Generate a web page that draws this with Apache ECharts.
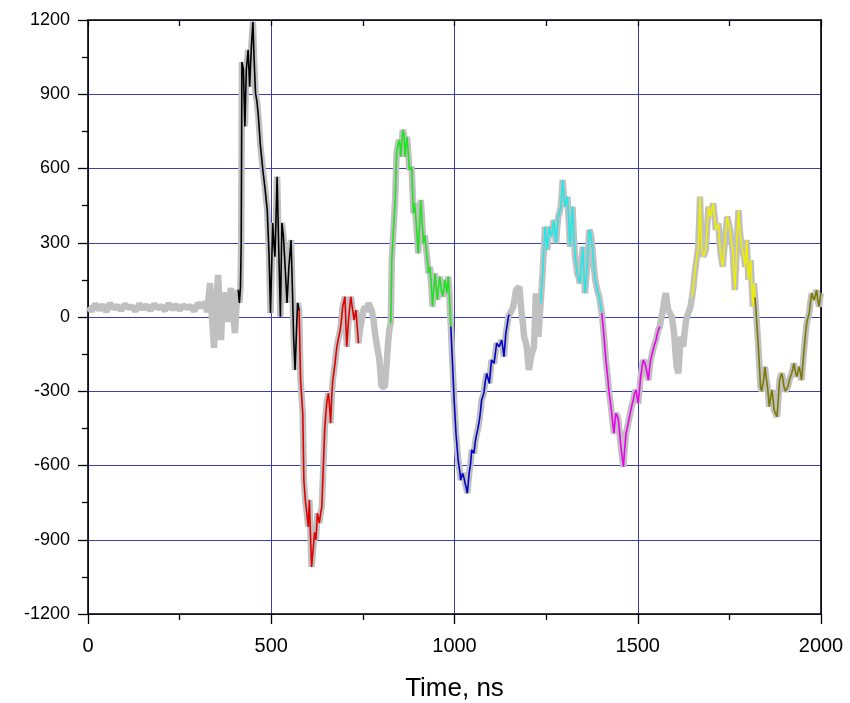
<!DOCTYPE html>
<html>
<head>
<meta charset="utf-8">
<script src="https://cdn.jsdelivr.net/npm/echarts@6/dist/echarts.min.js"></script>
<style>html,body{margin:0;padding:0;background:#fff}#c{width:850px;height:703px}</style>
</head>
<body>
<div id="c"></div>
<script>
// [time ns, value]
const preTrigger = [[0,40],[10,25],[20,52],[30,30],[40,48],[50,22],[60,55],[70,35],[80,45],[90,28],[100,50],[110,38],[120,42],[130,24],[140,53],[150,32],[160,47],[170,27],[180,51],[190,36],[200,44],[210,26],[220,54],[230,31],[240,49],[250,29],[260,46],[270,37],[280,43],[290,25],[300,55],[310,40],[320,60],[325,20],[333,137],[338,0],[344,-125],[350,60],[355,170],[360,20],[363,-93],[368,80],[372,30],[376,100],[380,-20],[385,60],[390,117],[395,20],[401,-65],[405,40],[410,110]];
const blackSeg = [[410,110],[413,57],[416,120],[418,300],[420,1030],[424,1000],[428,770],[432,1000],[437,1079],[441,930],[446,1100],[450,1193],[453,1050],[457,905],[461,870],[465,809],[470,700],[477,594],[483,520],[489,432],[494,250],[498,16],[501,200],[504,380],[507,300],[510,244],[513,400],[516,567],[520,300],[525,1],[529,380],[533,330],[538,200],[543,57],[548,200],[554,311],[558,100],[561,-80],[565,-214],[569,-50],[572,57],[576,28]];
const redSeg = [[576,28],[580,-255],[586,-389],[589,-659],[593,-740],[597,-792],[601,-847],[604,-739],[607,-880],[610,-1010],[615,-928],[618,-870],[622,-900],[626,-793],[631,-833],[635,-790],[638,-767],[642,-606],[646,-450],[649,-389],[652,-340],[656,-308],[659,-360],[662,-429],[665,-320],[668,-255],[674,-187],[679,-120],[683,-90],[688,-53],[691,-20],[695,42],[701,82],[706,-120],[711,-10],[717,82],[721,40],[726,-12],[731,28],[738,-106]];
const gap1 = [[738,-106],[742,-50],[747,-12],[752,30],[756,42],[761,20],[765,56],[770,40],[774,28],[779,-10],[783,-66],[789,-120],[795,-173],[801,-282],[805,-290],[810,-282],[815,-187],[819,-100],[822,-53],[826,-25]];
const greenSeg = [[826,-25],[829,230],[833,338],[838,473],[842,662],[846,700],[850,715],[853,648],[856,700],[859,756],[862,740],[865,648],[870,728],[873,680],[877,594],[883,607],[888,419],[891,460],[895,392],[901,257],[905,380],[908,473],[912,380],[915,298],[919,330],[922,284],[926,230],[929,176],[933,203],[937,120],[940,42],[944,120],[947,176],[950,120],[953,69],[957,130],[960,163],[964,110],[968,82],[971,120],[974,150],[979,96],[983,163],[986,90],[988,16],[990,-39]];
const blueSeg = [[990,-39],[995,-201],[999,-335],[1004,-470],[1010,-578],[1014,-620],[1017,-659],[1022,-631],[1026,-650],[1029,-672],[1032,-690],[1035,-712],[1040,-631],[1044,-590],[1047,-537],[1053,-551],[1057,-500],[1061,-470],[1064,-450],[1068,-416],[1071,-380],[1074,-335],[1080,-308],[1084,-260],[1088,-228],[1095,-268],[1101,-174],[1108,-187],[1112,-140],[1115,-106],[1122,-120],[1129,-93],[1135,-160],[1140,-66],[1144,-30],[1147,1],[1150,10]];
const gap2 = [[1150,10],[1156,28],[1160,40],[1165,82],[1168,109],[1171,115],[1177,122],[1180,70],[1183,16],[1187,-30],[1190,-80],[1194,-100],[1197,-120],[1200,-170],[1203,-214],[1207,-180],[1211,-147],[1214,-135],[1217,-120],[1222,96],[1226,-20],[1229,-80],[1232,-10],[1235,56]];
const cyanSeg = [[1235,56],[1238,120],[1241,190],[1244,280],[1247,365],[1250,320],[1253,271],[1256,320],[1259,365],[1262,340],[1265,325],[1268,360],[1271,392],[1274,340],[1277,298],[1280,360],[1283,405],[1286,420],[1290,446],[1293,500],[1295,554],[1299,480],[1302,446],[1305,470],[1308,486],[1312,380],[1315,284],[1318,360],[1322,446],[1325,340],[1329,244],[1332,210],[1335,176],[1339,160],[1342,136],[1346,200],[1350,284],[1353,180],[1356,96],[1359,150],[1362,203],[1365,290],[1368,352],[1371,340],[1374,311],[1378,250],[1381,190],[1384,150],[1388,122],[1391,100],[1395,82],[1398,50],[1402,16]];
const magentaSeg = [[1402,16],[1405,-30],[1408,-80],[1413,-174],[1417,-228],[1422,-308],[1425,-340],[1429,-389],[1432,-430],[1435,-470],[1440,-389],[1444,-400],[1447,-416],[1450,-460],[1453,-510],[1457,-560],[1461,-605],[1464,-540],[1468,-470],[1471,-450],[1474,-429],[1478,-400],[1481,-376],[1485,-350],[1488,-335],[1491,-310],[1495,-295],[1498,-320],[1501,-349],[1505,-290],[1508,-241],[1512,-200],[1515,-174],[1519,-185],[1522,-201],[1526,-230],[1529,-255],[1532,-210],[1535,-174],[1539,-150],[1542,-133],[1546,-110],[1550,-93],[1553,-70],[1556,-53],[1560,-39]];
const gap3 = [[1560,-39],[1565,0],[1570,42],[1574,80],[1577,96],[1580,60],[1583,28],[1588,15],[1593,1],[1596,-30],[1599,-66],[1603,-140],[1606,-201],[1611,-228],[1614,-150],[1617,-80],[1620,-100],[1624,-120],[1628,-60],[1632,-12],[1635,5],[1638,16],[1644,42],[1648,80]];
const yellowSeg = [[1648,80],[1652,122],[1655,170],[1659,217],[1662,250],[1665,284],[1668,400],[1670,486],[1672,380],[1674,284],[1679,244],[1683,260],[1686,271],[1690,380],[1693,446],[1696,420],[1699,405],[1703,440],[1706,459],[1710,400],[1713,352],[1716,365],[1720,378],[1723,310],[1726,257],[1729,230],[1732,203],[1735,260],[1738,311],[1741,360],[1744,405],[1748,380],[1752,352],[1755,310],[1759,271],[1762,190],[1765,109],[1768,200],[1770,284],[1773,380],[1775,432],[1778,360],[1781,311],[1783,290],[1786,284],[1790,240],[1793,203],[1797,311],[1800,220],[1802,150],[1805,190],[1808,230],[1811,130],[1814,42],[1817,136],[1820,80]];
const oliveSeg = [[1820,80],[1823,16],[1826,-50],[1829,-120],[1832,-200],[1835,-282],[1838,-300],[1841,-308],[1844,-250],[1847,-201],[1850,-240],[1854,-282],[1857,-330],[1859,-362],[1863,-320],[1866,-295],[1869,-330],[1872,-376],[1876,-390],[1880,-403],[1884,-320],[1887,-255],[1890,-240],[1893,-228],[1896,-250],[1899,-282],[1903,-300],[1906,-308],[1910,-280],[1914,-255],[1917,-240],[1920,-228],[1923,-210],[1926,-187],[1930,-220],[1934,-241],[1937,-220],[1941,-201],[1944,-230],[1947,-255],[1950,-200],[1953,-147],[1957,-80],[1961,-25],[1964,-5],[1968,16],[1971,60],[1975,96],[1978,80],[1981,69],[1985,90],[1988,109],[1991,70],[1995,42],[1998,80],[2000,96]];

const colored = [
  {data: blackSeg, color: '#000000'},
  {data: redSeg, color: '#e00000'},
  {data: greenSeg, color: '#22e022'},
  {data: blueSeg, color: '#0000c8'},
  {data: cyanSeg, color: '#20e8e8'},
  {data: magentaSeg, color: '#ee00ee'},
  {data: yellowSeg, color: '#eeee00'},
  {data: oliveSeg, color: '#7a7a00'}
];
const grayTrace = [].concat(preTrigger, blackSeg, redSeg, gap1, greenSeg, blueSeg, gap2, cyanSeg, magentaSeg, gap3, yellowSeg, oliveSeg);

const font = 'Liberation Sans, Arial, sans-serif';
const plain = v => String(v);
const chart = echarts.init(document.getElementById('c'), null, {renderer: 'canvas'});
const series = [{
  type: 'line', data: grayTrace, showSymbol: false, silent: true,
  lineStyle: {color: '#c0c0c0', width: 6.5}, z: 2
}];
colored.forEach(s => series.push({
  type: 'line', data: s.data, showSymbol: false, silent: true,
  lineStyle: {color: s.color, width: 1.6}, z: 3
}));

chart.setOption({
  animation: false,
  backgroundColor: '#fff',
  grid: {left: 88, right: 29, top: 20, bottom: 89, containLabel: false, outerBoundsMode: 'none'},
  xAxis: [{
    type: 'value', min: 0, max: 2000, interval: 500, position: 'bottom',
    name: 'Time, ns', nameLocation: 'middle', nameGap: 62,
    nameTextStyle: {fontFamily: font, fontSize: 26, color: '#000'},
    axisLine: {show: true, onZero: false, lineStyle: {color: '#000', width: 1.6}},
    axisTick: {show: true, inside: false, length: 10, lineStyle: {color: '#000', width: 1.3}},
    minorTick: {show: true, splitNumber: 2, length: 6, lineStyle: {color: '#000', width: 1.3}},
    axisLabel: {fontFamily: font, fontSize: 20, color: '#000', margin: 22, formatter: plain},
    splitLine: {show: true, lineStyle: {color: '#3c3cb4', width: 1}}
  }, {
    type: 'value', min: 0, max: 2000, interval: 250, position: 'top',
    axisLine: {show: true, onZero: false, lineStyle: {color: '#000', width: 1.6}},
    axisTick: {show: true, inside: true, length: 6, lineStyle: {color: '#000', width: 1.3}},
    axisLabel: {show: false}, splitLine: {show: false}
  }],
  yAxis: [{
    type: 'value', min: -1200, max: 1200, interval: 300, position: 'left',
    axisLine: {show: true, onZero: false, lineStyle: {color: '#000', width: 1.6}},
    axisTick: {show: true, inside: false, length: 10, lineStyle: {color: '#000', width: 1.3}},
    minorTick: {show: true, splitNumber: 2, length: 6, lineStyle: {color: '#000', width: 1.3}},
    axisLabel: {fontFamily: font, fontSize: 18, color: '#000', margin: 18, formatter: plain},
    splitLine: {show: true, lineStyle: {color: '#3c3cb4', width: 1}}
  }, {
    type: 'value', min: -1200, max: 1200, interval: 300, position: 'right',
    axisLine: {show: true, onZero: false, lineStyle: {color: '#000', width: 1.6}},
    axisTick: {show: false}, axisLabel: {show: false}, splitLine: {show: false}
  }],
  series: series
});
</script>
</body>
</html>
